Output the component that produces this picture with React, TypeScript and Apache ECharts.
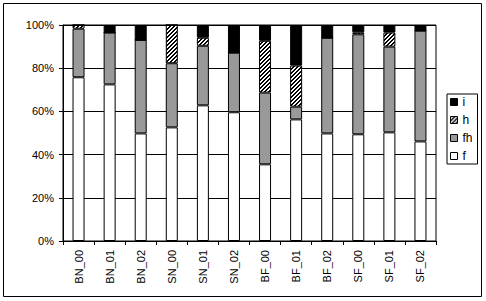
import React, { useEffect, useRef } from "react";
import * as echarts from "echarts";

const categories = ["BN_00", "BN_01", "BN_02", "SN_00", "SN_01", "SN_02", "BF_00", "BF_01", "BF_02", "SF_00", "SF_01", "SF_02"];
const fValues = [75.8, 72.5, 49.8, 52.6, 62.8, 59.6, 35.5, 56.3, 49.8, 49.4, 50.3, 46.1];
const fhValues = [22.5, 24.0, 43.3, 29.7, 27.6, 27.6, 33.2, 5.9, 44.3, 46.3, 39.7, 51.3];
const hValues = [1.7, 0, 0, 17.7, 3.7, 0, 24.0, 19.0, 0, 0.9, 6.5, 0];
const iValues = [0, 3.5, 6.9, 0, 5.9, 12.8, 7.3, 18.8, 5.9, 3.4, 3.5, 2.6];
const legendOrder = ["i", "h", "fh", "f"];

const FONT = 'Arial, "Liberation Sans", sans-serif';

function makeHatch(): HTMLCanvasElement {
  const c = document.createElement("canvas");
  c.width = 4;
  c.height = 4;
  const ctx = c.getContext("2d")!;
  ctx.fillStyle = "#ffffff";
  ctx.fillRect(0, 0, 4, 4);
  ctx.fillStyle = "#000000";
  for (let k = 0; k < 4; k++) {
    ctx.fillRect((3 - k + 4) % 4, k, 1, 1);
    ctx.fillRect((4 - k) % 4, k, 1, 1);
  }
  return c;
}

export default function App() {
  const ref = useRef<HTMLDivElement>(null);
  useEffect(() => {
    if (!ref.current) return;
    const chart = echarts.init(ref.current, undefined, { renderer: "svg" });
    const hatch = makeHatch();
    const hatchColor: any = { image: hatch, repeat: "repeat", imageWidth: 4, imageHeight: 4 };
    const base = {
      type: "bar" as const,
      stack: "total",
      barWidth: 12,
      itemStyle: { borderColor: "#000", borderWidth: 1 },
    };
    chart.setOption({
      animation: false,
      backgroundColor: "#ffffff",
      textStyle: { fontFamily: FONT },
      graphic: [
        {
          type: "rect",
          shape: { x: 3.5, y: 3.5, width: 478, height: 293 },
          style: { fill: "none", stroke: "#000", lineWidth: 1 },
          silent: true,
        },
      ],
      grid: {
        left: 63,
        top: 25,
        right: 50,
        bottom: 60,
        show: true,
        borderColor: "#000",
        borderWidth: 1,
        backgroundColor: "#ffffff",
      },
      legend: {
        orient: "vertical",
        left: 447,
        top: 94,
        data: legendOrder,
        itemWidth: 7,
        itemHeight: 7,
        itemGap: 6,
        itemTextGap: 2,
        padding: [2, 5, 2, 3],
        borderColor: "#000",
        borderWidth: 1,
        borderRadius: 0,
        icon: "rect",
        itemStyle: { borderColor: "#000", borderWidth: 1 },
        textStyle: { fontFamily: FONT, fontSize: 12, color: "#000", lineHeight: 12 },
      },
      xAxis: {
        type: "category",
        data: categories,
        axisLine: { lineStyle: { color: "#000", width: 1 } },
        axisTick: { show: true, length: 4, lineStyle: { color: "#000" } },
        axisLabel: { rotate: 90, margin: 9, fontFamily: FONT, fontSize: 11, color: "#000" },
      },
      yAxis: {
        type: "value",
        min: 0,
        max: 100,
        interval: 20,
        axisLine: { show: true, lineStyle: { color: "#000", width: 1 } },
        axisTick: { show: true, length: 4, lineStyle: { color: "#000" } },
        axisLabel: { formatter: "{value}%", margin: 9, fontFamily: FONT, fontSize: 11, color: "#000" },
        splitLine: { show: true, lineStyle: { color: "#000", width: 1 } },
      },
      series: [
        { ...base, name: "f", data: fValues, itemStyle: { ...base.itemStyle, color: "#ffffff" } },
        { ...base, name: "fh", data: fhValues, itemStyle: { ...base.itemStyle, color: "#999999" } },
        { ...base, name: "h", data: hValues, itemStyle: { ...base.itemStyle, color: hatchColor } },
        { ...base, name: "i", data: iValues, itemStyle: { ...base.itemStyle, color: "#000000" } },
      ],
    });
    return () => chart.dispose();
  }, []);
  return (
    <div
      ref={ref}
      style={{ position: "absolute", left: 0, top: 0, width: 486, height: 301, background: "#fff" }}
    />
  );
}
